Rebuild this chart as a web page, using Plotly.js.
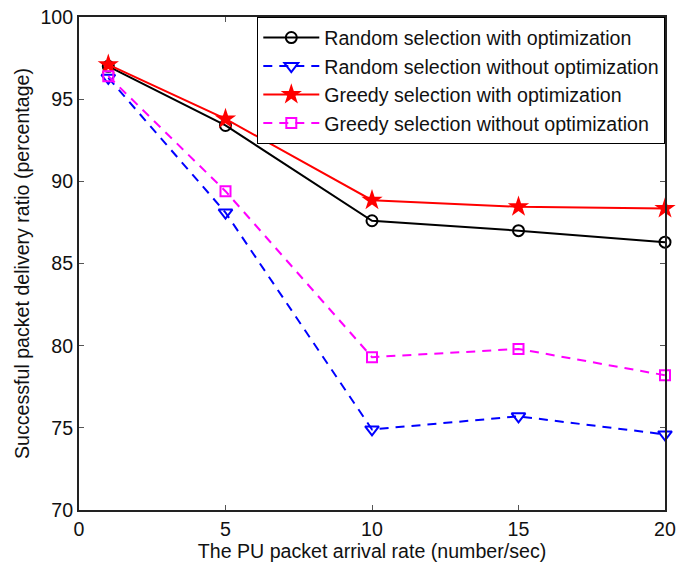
<!DOCTYPE html>
<html>
<head>
<meta charset="utf-8">
<script src="https://cdn.plot.ly/plotly-3.0.1.min.js"></script>
<style>html,body{margin:0;padding:0;background:#fff;}#chart{width:678px;height:567px;}</style>
</head>
<body>
<div id="chart"></div>
<script>
const arrivalRate = [1, 5, 10, 15, 20];
const randomWithOpt = [97.0, 93.4, 87.6, 87.0, 86.3];
const randomWithoutOpt = [96.3, 88.1, 74.9, 75.7, 74.6];
const greedyWithOpt = [97.1, 93.8, 88.85, 88.45, 88.35];
const greedyWithoutOpt = [96.4, 89.4, 79.3, 79.8, 78.2];
const seriesNames = [
  "Random selection with optimization",
  "Random selection without optimization",
  "Greedy selection with optimization",
  "Greedy selection without optimization"
];
const xTicks = [0, 5, 10, 15, 20];
const yTicks = [70, 75, 80, 85, 90, 95, 100];

const font = {family: "Liberation Sans, Arial, sans-serif", size: 19.6, color: "#111"};

const traces = [
  {x: arrivalRate, y: randomWithOpt, name: seriesNames[0], mode: "lines+markers", cliponaxis: false,
   line: {color: "#000000", width: 2}, marker: {symbol: "circle-open", size: 11, color: "#000000", line: {width: 2}}},
  {x: arrivalRate, y: randomWithoutOpt, name: seriesNames[1], mode: "lines+markers", cliponaxis: false,
   line: {color: "#0000ff", width: 2, dash: "9px,7px"}, marker: {symbol: "triangle-down-open", size: 12, color: "#0000ff", line: {width: 2}}},
  {x: arrivalRate, y: greedyWithOpt, name: seriesNames[2], mode: "lines+markers", cliponaxis: false,
   line: {color: "#ff0000", width: 2}, marker: {symbol: "star", size: 16, color: "#ff0000", line: {width: 0}}},
  {x: arrivalRate, y: greedyWithoutOpt, name: seriesNames[3], mode: "lines+markers", cliponaxis: false,
   line: {color: "#ff00ff", width: 2, dash: "9px,7px"}, marker: {symbol: "square-open", size: 10, color: "#ff00ff", line: {width: 2}}}
];

const layout = {
  width: 678, height: 567,
  margin: {l: 79, r: 13, t: 17, b: 57, pad: 0},
  paper_bgcolor: "#fff", plot_bgcolor: "#fff",
  font: font,
  showlegend: true,
  legend: {x: 1, y: 1, xanchor: "right", yanchor: "top", bgcolor: "#fff", bordercolor: "#000", borderwidth: 1.3,
           font: font, itemwidth: 56, tracegroupgap: 0},
  xaxis: {range: [0, 20], tickvals: xTicks, ticks: "inside", ticklen: 5, tickcolor: "#555", showgrid: false, zeroline: false,
          showline: true, linecolor: "#222", linewidth: 2, mirror: "ticks",
          title: {text: "The PU packet arrival rate (number/sec)", font: font, standoff: 6}, tickfont: font},
  yaxis: {range: [70, 100], tickvals: yTicks, ticks: "inside", ticklen: 5, tickcolor: "#555", showgrid: false, zeroline: false,
          showline: true, linecolor: "#222", linewidth: 2, mirror: "ticks",
          title: {text: "Successful packet delivery ratio (percentage)", font: font, standoff: 6}, tickfont: font}
};

Plotly.newPlot("chart", traces, layout, {displayModeBar: false, staticPlot: true});
</script>
</body>
</html>
